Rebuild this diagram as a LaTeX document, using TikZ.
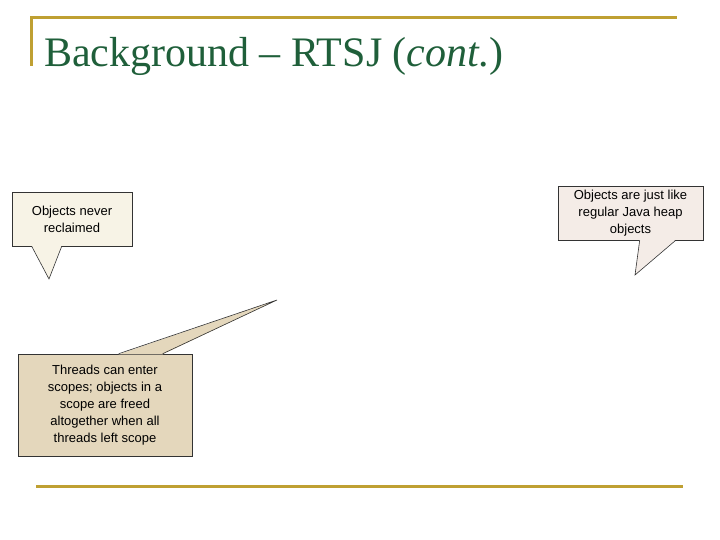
\documentclass[tikz,border=0pt]{standalone}
\usepackage{fontspec}
\setmainfont{Liberation Serif}
\newfontfamily\calloutfont{Liberation Sans}
\usepackage{xcolor}
\usepackage{tikz}
\usetikzlibrary{positioning}
\definecolor{slidegold}{HTML}{BFA032}
\definecolor{titlegreen}{HTML}{1F5F3A}
\definecolor{creamfill}{HTML}{F7F3E6}
\definecolor{rosefill}{HTML}{F4ECE7}
\definecolor{tanfill}{HTML}{E4D7BC}
\tikzstyle{rule} = [line width=3pt, color=slidegold]
\tikzstyle{callout} = [rectangle, draw=black!80, line width=0.6pt, align=center, font=\calloutfont\fontsize{13}{17}\selectfont, inner sep=2pt]
\tikzstyle{pointer} = [draw=black!80, line width=0.6pt, line join=miter]

\begin{document}
\begin{tikzpicture}[x=1pt, y=-1pt]
\useasboundingbox (0,0) rectangle (720,540);
% frame rules
\coordinate (tl) at (31,18);
\coordinate (tr) at (677,18);
\coordinate (vb) at (31,66);
\coordinate (bl) at (36,486);
\coordinate (br) at (683,486);
\draw[rule] (vb) -- (tl) -- (tr);
\draw[rule] (bl) -- (br);

\node (title) [anchor=base west, inner sep=0pt, text=titlegreen, font=\fontsize{42}{46}\selectfont] at (44,67) {Background -- RTSJ (\textit{cont.})};

% callouts
\node (never) [callout, fill=creamfill, minimum width=120pt, minimum height=54pt] at (72,219) {Objects never\\reclaimed};
\node (heap) [callout, fill=rosefill, minimum width=145pt, minimum height=54pt] at (630.5,213) {Objects are just like\\regular Java heap\\objects};
\node (scope) [callout, fill=tanfill, minimum width=174pt, minimum height=102pt] at (105,405) {Threads can enter\\scopes; objects in a\\scope are freed\\altogether when all\\threads left scope};

\coordinate (neverTip) at (49,279);
\coordinate (heapTip) at (635,275);
\coordinate (scopeTip) at (277,300);

\fill[creamfill] ([xshift=20pt,yshift=0.6pt]never.south west) -- (neverTip) -- ([xshift=50pt,yshift=0.6pt]never.south west) -- cycle;
\draw[pointer] ([xshift=20pt]never.south west) -- (neverTip) -- ([xshift=50pt]never.south west);

\fill[rosefill] ([xshift=82pt,yshift=0.6pt]heap.south west) -- (heapTip) -- ([xshift=118pt,yshift=0.6pt]heap.south west) -- cycle;
\draw[pointer] ([xshift=82pt]heap.south west) -- (heapTip) -- ([xshift=118pt]heap.south west);

\fill[tanfill] ([xshift=101pt,yshift=-0.6pt]scope.north west) -- (scopeTip) -- ([xshift=145pt,yshift=-0.6pt]scope.north west) -- cycle;
\draw[pointer] ([xshift=101pt]scope.north west) -- (scopeTip) -- ([xshift=145pt]scope.north west);
\end{tikzpicture}
\end{document}
